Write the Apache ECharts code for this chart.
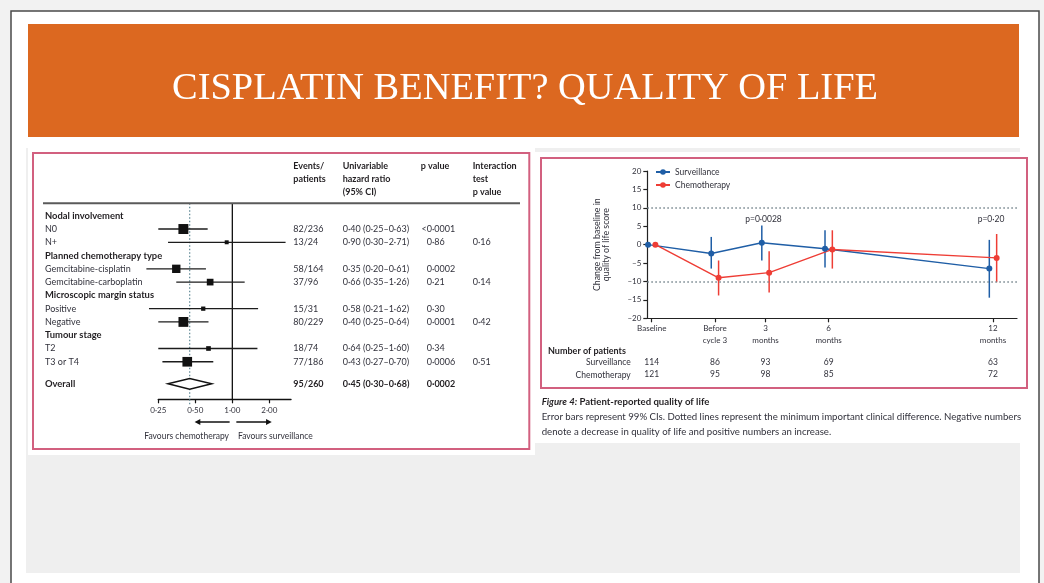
<!DOCTYPE html>
<html>
<head>
<meta charset="utf-8">
<title>Cisplatin benefit? Quality of life</title>
<script src="https://cdn.jsdelivr.net/npm/echarts@6/dist/echarts.min.js"></script>
<style>
  html, body { margin: 0; padding: 0; background: #f2f2f2; }
  #chart { width: 1044px; height: 583px; }
</style>
</head>
<body>
<div id="chart"></div>
<script>
// ---------- Forest plot: univariable hazard ratios by subgroup ----------
const groupTitles = ['Nodal involvement', 'Planned chemotherapy type', 'Microscopic margin status', 'Tumour stage'];
const subgroupLabels = ['N0', 'N+', 'Gemcitabine-cisplatin', 'Gemcitabine-carboplatin', 'Positive', 'Negative', 'T2', 'T3 or T4'];
const subgroupEvents = [82, 13, 58, 37, 15, 80, 18, 77];
const subgroupPatients = [236, 24, 164, 96, 31, 229, 74, 186];
const subgroupHr = [0.40, 0.90, 0.35, 0.66, 0.58, 0.40, 0.64, 0.43];
const subgroupLow = [0.25, 0.30, 0.20, 0.35, 0.21, 0.25, 0.25, 0.27];
const subgroupHigh = [0.63, 2.71, 0.61, 1.26, 1.62, 0.64, 1.60, 0.70];
const subgroupP = ['<0\u00b70001', '0\u00b786', '0\u00b70002', '0\u00b721', '0\u00b730', '0\u00b70001', '0\u00b734', '0\u00b70006'];
const interactionP = ['0\u00b716', '0\u00b714', '0\u00b742', '0\u00b751'];
const overallEvents = [95];
const overallPatients = [260];
const overallHr = [0.45];
const overallLow = [0.30];
const overallHigh = [0.68];
const overallP = ['0\u00b70002'];
const hrTicks = [0.25, 0.5, 1, 2];

// ---------- Patient-reported quality of life ----------
const visitLabels = ['Baseline', 'Before\ncycle 3', '3\nmonths', '6\nmonths', '12\nmonths'];
const visitSlot = [0, 5, 9, 14, 27];          // place of each visit along the time axis
const survMean = [0, -2.4, 0.5, -1.1, -6.5];
const survLow = [null, -6.5, -4.3, -6.2, -14.4];
const survHigh = [null, 2.1, 5.2, 3.9, 1.3];
const chemoMean = [0, -9.0, -7.6, -1.3, -3.6];
const chemoLow = [null, -13.8, -13.0, -6.5, -10.2];
const chemoHigh = [null, -4.3, -1.8, 3.9, 2.9];
const survPatients = [114, 86, 93, 69, 63];
const chemoPatients = [121, 95, 98, 85, 72];
const mcidLevels = [10, -10];
const pVisit = [2, 4];
const pText = ['p=0\u00b70028', 'p=0\u00b720'];

// ---------- styling ----------
const FONT = "Lato, 'Open Sans', sans-serif";
const SERIF = "'Liberation Serif', 'DejaVu Serif', serif";
const INK = '#32323c';
const INK_BOLD = '#221f22';
const BLUE = '#1f5ea6';
const RED = '#ee3d35';
const fmt2 = v => v.toFixed(2).replace('.', '\u00b7');
const DODGE = 0.29;
const P_LABEL_LEVEL = 7;

// table rows of the forest plot: a bold group title followed by its two subgroups
const forestRows = [];
groupTitles.forEach((title, g) => {
  forestRows.push({ label: title, group: g, sub: null });
  [0, 1].forEach(k => forestRows.push({ label: subgroupLabels[g * 2 + k], group: g, sub: g * 2 + k, last: k === 1 }));
});
const rowLabels = forestRows.map(r => r.label);
const hrText = (hr, lo, hi) => `${fmt2(hr)} (${fmt2(lo)}\u2013${fmt2(hi)})`;
const colEvents = forestRows.map(r => r.sub == null ? '' : subgroupEvents[r.sub] + '/' + subgroupPatients[r.sub]);
const colHr = forestRows.map(r => r.sub == null ? '' : hrText(subgroupHr[r.sub], subgroupLow[r.sub], subgroupHigh[r.sub]));
const colP = forestRows.map(r => r.sub == null ? '' : subgroupP[r.sub].replace('<', ''));
const colPSign = forestRows.map(r => r.sub != null && subgroupP[r.sub].startsWith('<') ? '<' : '');
const colInt = forestRows.map(r => r.last ? interactionP[r.group] : '');

const forestData = forestRows
  .map((r, i) => r.sub == null ? null : [subgroupHr[r.sub], i, subgroupLow[r.sub], subgroupHigh[r.sub], subgroupEvents[r.sub]])
  .filter(Boolean);

const FOREST_LEFT = 158.3, FOREST_W = 132.7, FOREST_RIGHT = FOREST_LEFT + FOREST_W;

function columnAxis(gridIndex, data, texts, x, bold, align) {
  return {
    gridIndex, type: 'category', data, inverse: true, position: 'right', offset: x - FOREST_RIGHT,
    axisLine: { show: false }, axisTick: { show: false }, splitLine: { show: false },
    axisLabel: {
      interval: 0, margin: 0, align: align || 'left', fontFamily: FONT, fontSize: 9,
      color: bold ? INK_BOLD : INK, fontWeight: bold ? 'bold' : 'normal',
      formatter: (v, i) => texts[i]
    }
  };
}

function renderForestRow(params, api) {
  const row = api.value(1);
  const pHr = api.coord([api.value(0), row]);
  const xLo = api.coord([api.value(2), row])[0];
  const xHi = api.coord([api.value(3), row])[0];
  const s = Math.sqrt(api.value(4)) * 1.1;
  return {
    type: 'group', children: [
      { type: 'line', shape: { x1: xLo, y1: pHr[1], x2: xHi, y2: pHr[1] }, style: { stroke: '#1c1c1c', lineWidth: 1.3 } },
      { type: 'rect', shape: { x: pHr[0] - s / 2, y: pHr[1] - s / 2, width: s, height: s }, style: { fill: '#111' } }
    ]
  };
}

function renderDiamond(params, api) {
  const c = api.coord([api.value(0), 0]);
  const lo = api.coord([api.value(1), 0])[0];
  const hi = api.coord([api.value(2), 0])[0];
  const h = 5.4;
  return {
    type: 'polygon',
    shape: { points: [[lo, c[1]], [c[0], c[1] - h], [hi, c[1]], [c[0], c[1] + h]] },
    style: { fill: '#fff', stroke: '#111', lineWidth: 1.5 }
  };
}

function renderErrorBar(color) {
  return function (params, api) {
    if (api.value(1) == null || isNaN(api.value(1))) return null;
    const a = api.coord([api.value(0), api.value(1)]);
    const b = api.coord([api.value(0), api.value(2)]);
    return { type: 'line', shape: { x1: a[0], y1: a[1], x2: b[0], y2: b[1] }, style: { stroke: color, lineWidth: 1.5 } };
  };
}

function renderPLabel(params, api) {
  const p = api.coord([api.value(0), P_LABEL_LEVEL]);
  return {
    type: 'text', x: p[0] - 2, y: p[1],
    style: { text: pText[params.dataIndex], fill: INK, fontFamily: FONT, fontSize: 8.5, textAlign: 'center', textVerticalAlign: 'middle' }
  };
}

const SLOT_MIN = -0.35, SLOT_MAX = 28.9;
const axisLabelBase = { fontFamily: FONT, color: INK };

const chart = echarts.init(document.getElementById('chart'), null, { renderer: 'canvas', width: 1044, height: 583 });

const option = {
  animation: false,
  textStyle: { fontFamily: FONT },
  grid: [
    { left: FOREST_LEFT, top: 209.1, width: FOREST_W, height: 159.3, outerBoundsMode: 'none' },
    { left: FOREST_LEFT, top: 368.4, width: FOREST_W, height: 30.9, outerBoundsMode: 'none' },
    { left: 647.3, top: 171, width: 369.7, height: 147.3, outerBoundsMode: 'none' }
  ],
  legend: {
    data: ['Surveillance', 'Chemotherapy'], orient: 'vertical', left: 650, top: 162.5, padding: 5,
    itemWidth: 14, itemHeight: 7, itemGap: 4, selectedMode: false,
    textStyle: { fontFamily: FONT, fontSize: 8.5, color: INK }
  },
  xAxis: [
    { gridIndex: 0, type: 'log', logBase: 2, min: 0.25, max: 3, show: false },
    {
      gridIndex: 1, type: 'log', logBase: 2, min: 0.25, max: 3, position: 'bottom',
      axisLine: { show: true, lineStyle: { color: '#111', width: 1.4 } },
      axisTick: { show: true, length: 4, customValues: hrTicks, lineStyle: { color: '#111', width: 1.2 } },
      axisLabel: Object.assign({ customValues: hrTicks, fontSize: 8, margin: 7, formatter: v => fmt2(v) }, axisLabelBase),
      splitLine: { show: false }, minorTick: { show: false }
    },
    {
      gridIndex: 2, type: 'value', min: SLOT_MIN, max: SLOT_MAX, position: 'bottom',
      axisLine: { show: true, onZero: false, lineStyle: { color: '#222', width: 1.2 } },
      axisTick: { show: true, length: 4, customValues: visitSlot, lineStyle: { color: '#222', width: 1.2 } },
      axisLabel: Object.assign({ customValues: visitSlot, fontSize: 8, lineHeight: 12.4, margin: 4,
        formatter: v => visitLabels[visitSlot.indexOf(v)] }, axisLabelBase),
      splitLine: { show: false }
    },
    {
      gridIndex: 2, type: 'value', min: SLOT_MIN, max: SLOT_MAX, position: 'bottom', offset: 38,
      axisLine: { show: false }, axisTick: { show: false }, splitLine: { show: false },
      axisLabel: Object.assign({ customValues: visitSlot, fontSize: 8.5, margin: 1,
        formatter: v => String(survPatients[visitSlot.indexOf(v)]) }, axisLabelBase)
    },
    {
      gridIndex: 2, type: 'value', min: SLOT_MIN, max: SLOT_MAX, position: 'bottom', offset: 50.5,
      axisLine: { show: false }, axisTick: { show: false }, splitLine: { show: false },
      axisLabel: Object.assign({ customValues: visitSlot, fontSize: 8.5, margin: 1,
        formatter: v => String(chemoPatients[visitSlot.indexOf(v)]) }, axisLabelBase)
    }
  ],
  yAxis: [
    {
      gridIndex: 0, type: 'category', data: rowLabels, inverse: true, position: 'left',
      axisLine: { show: false }, axisTick: { show: false }, splitLine: { show: false },
      axisLabel: {
        interval: 0, margin: FOREST_LEFT - 45, align: 'left', fontFamily: FONT, fontSize: 9, color: INK,
        formatter: v => groupTitles.includes(v) ? '{b|' + v + '}' : v,
        rich: { b: { fontFamily: FONT, fontSize: 9.4, fontWeight: 'bold', color: INK_BOLD } }
      }
    },
    columnAxis(0, rowLabels, colEvents, 293.3, false),
    columnAxis(0, rowLabels, colHr, 342.7, false),
    columnAxis(0, rowLabels, colP, 426.7, false),
    columnAxis(0, rowLabels, colInt, 472.7, false),
    columnAxis(0, rowLabels, colPSign, 426.7, false, 'right'),
    {
      gridIndex: 1, type: 'category', data: ['Overall'], inverse: true, position: 'left',
      axisLine: { show: false }, axisTick: { show: false }, splitLine: { show: false },
      axisLabel: { interval: 0, margin: FOREST_LEFT - 45, align: 'left', fontFamily: FONT, fontSize: 9.4, fontWeight: 'bold', color: INK_BOLD }
    },
    columnAxis(1, ['Overall'], [overallEvents[0] + '/' + overallPatients[0]], 293.3, true),
    columnAxis(1, ['Overall'], [hrText(overallHr[0], overallLow[0], overallHigh[0])], 342.7, true),
    columnAxis(1, ['Overall'], overallP, 426.7, true),
    {
      gridIndex: 2, type: 'value', min: -20, max: 20, interval: 5,
      axisLine: { show: true, onZero: false, lineStyle: { color: '#222', width: 1.2 } },
      axisTick: { show: true, length: 4, lineStyle: { color: '#222', width: 1.2 } },
      axisLabel: Object.assign({ fontSize: 8, margin: 6, formatter: v => v < 0 ? '\u2013' + (-v) : String(v) }, axisLabelBase),
      splitLine: { show: false },
      name: 'Change from baseline in\nquality of life score', nameLocation: 'middle', nameRotate: 90, nameGap: 37,
      nameTextStyle: { fontFamily: FONT, fontSize: 8.8, lineHeight: 9, color: INK }
    }
  ],
  series: [
    {
      type: 'custom', name: 'subgroups', xAxisIndex: 0, yAxisIndex: 0,
      data: forestData, encode: { x: [0, 2, 3], y: 1 }, renderItem: renderForestRow, clip: false, z: 5
    },
    {
      type: 'custom', name: 'overall', xAxisIndex: 1, yAxisIndex: 6,
      data: [[overallHr[0], overallLow[0], overallHigh[0]]], encode: { x: [0, 1, 2] },
      renderItem: renderDiamond, clip: false, z: 5
    },
    {
      type: 'custom', name: 'survBars', xAxisIndex: 2, yAxisIndex: 10,
      data: visitSlot.map((s, i) => [s - DODGE, survLow[i], survHigh[i]]), encode: { x: 0, y: [1, 2] },
      renderItem: renderErrorBar(BLUE), clip: false, z: 3
    },
    {
      type: 'custom', name: 'chemoBars', xAxisIndex: 2, yAxisIndex: 10,
      data: visitSlot.map((s, i) => [s + DODGE, chemoLow[i], chemoHigh[i]]), encode: { x: 0, y: [1, 2] },
      renderItem: renderErrorBar(RED), clip: false, z: 3
    },
    {
      type: 'line', name: 'Surveillance', xAxisIndex: 2, yAxisIndex: 10,
      data: visitSlot.map((s, i) => [s - DODGE, survMean[i]]),
      color: BLUE, symbol: 'circle', symbolSize: 6, lineStyle: { width: 1.4, color: BLUE }, itemStyle: { color: BLUE }, z: 4,
      markLine: {
        silent: true, symbol: 'none', label: { show: false },
        lineStyle: { type: [1.6, 2.4], color: '#7b8a92', width: 1.5 },
        data: mcidLevels.map(v => ({ yAxis: v }))
      }
    },
    {
      type: 'line', name: 'Chemotherapy', xAxisIndex: 2, yAxisIndex: 10,
      data: visitSlot.map((s, i) => [s + DODGE, chemoMean[i]]),
      color: RED, symbol: 'circle', symbolSize: 6, lineStyle: { width: 1.4, color: RED }, itemStyle: { color: RED }, z: 4
    },
    {
      type: 'custom', name: 'pValues', xAxisIndex: 2, yAxisIndex: 10,
      data: pVisit.map(i => [visitSlot[i]]), encode: { x: 0 }, renderItem: renderPLabel, clip: false, z: 6
    }
  ]
};

chart.setOption(option);

// reference lines and direction arrows placed on the hazard-ratio scale
const hrPx = v => chart.convertToPixel({ xAxisIndex: 1 }, v);
const xOne = hrPx(1), xOverall = hrPx(overallHr[0]), xHalf = hrPx(0.5), xTwo = hrPx(2);
const ARROW_Y = 422;

const txt = (x, y, text, extra) => ({
  type: 'text', x, y, z: 20,
  style: Object.assign({ text, fill: INK, fontFamily: FONT, fontSize: 9, textAlign: 'left', textVerticalAlign: 'middle' }, extra || {})
});

const elements = [
  // slide
  { type: 'rect', z: -30, shape: { x: 11, y: 11, width: 1028, height: 620 }, style: { fill: '#fff', stroke: '#4a4a4a', lineWidth: 1.5 } },
  { type: 'rect', z: -29, shape: { x: 28, y: 24, width: 991, height: 113 }, style: { fill: '#dc6820' } },
  { type: 'text', z: -28, x: 525, y: 89, style: { text: 'CISPLATIN BENEFIT? QUALITY OF LIFE', fill: '#fff', fontFamily: SERIF, fontSize: 38.4, textAlign: 'center', textVerticalAlign: 'middle' } },
  { type: 'rect', z: -27, shape: { x: 26, y: 148, width: 994, height: 425 }, style: { fill: '#efefef' } },
  // left panel
  { type: 'rect', z: -26, shape: { x: 28, y: 146, width: 507, height: 309 }, style: { fill: '#fff' } },
  { type: 'rect', z: -25, shape: { x: 33, y: 153, width: 496.3, height: 296 }, style: { fill: 'none', stroke: '#d2607f', lineWidth: 2 } },
  // right panel
  { type: 'rect', z: -26, shape: { x: 535, y: 152, width: 496, height: 291 }, style: { fill: '#fff' } },
  { type: 'rect', z: -25, shape: { x: 541, y: 158, width: 486, height: 230 }, style: { fill: 'none', stroke: '#d2607f', lineWidth: 2 } },

  // forest table header
  txt(293.3, 159.5, 'Events/\npatients', { fontWeight: 'bold', fill: INK_BOLD, lineHeight: 13, textVerticalAlign: 'top' }),
  txt(342.7, 159.5, 'Univariable\nhazard ratio\n(95% CI)', { fontWeight: 'bold', fill: INK_BOLD, lineHeight: 13, textVerticalAlign: 'top' }),
  txt(420.7, 159.5, 'p value', { fontWeight: 'bold', fill: INK_BOLD, lineHeight: 13, textVerticalAlign: 'top' }),
  txt(472.7, 159.5, 'Interaction\ntest\np value', { fontWeight: 'bold', fill: INK_BOLD, lineHeight: 13, textVerticalAlign: 'top' }),
  { type: 'line', z: 20, shape: { x1: 43, y1: 203.3, x2: 520, y2: 203.3 }, style: { stroke: '#5a5a5a', lineWidth: 2 } },

  // no-effect line and overall estimate line
  { type: 'line', z: 4, shape: { x1: xOne, y1: 203.3, x2: xOne, y2: 399.3 }, style: { stroke: '#111', lineWidth: 1.3 } },
  { type: 'line', z: 3, shape: { x1: xOverall, y1: 203.3, x2: xOverall, y2: 406 }, style: { stroke: '#5d8794', lineWidth: 1.2, lineDash: [1.5, 2] } },

  // direction arrows
  { type: 'line', z: 20, shape: { x1: xOne - 2.7, y1: ARROW_Y, x2: xHalf + 3, y2: ARROW_Y }, style: { stroke: '#111', lineWidth: 1.5 } },
  { type: 'polygon', z: 20, shape: { points: [[xHalf - 0.7, ARROW_Y], [xHalf + 5, ARROW_Y - 3], [xHalf + 5, ARROW_Y + 3]] }, style: { fill: '#111' } },
  { type: 'line', z: 20, shape: { x1: xOne + 4, y1: ARROW_Y, x2: xTwo - 2, y2: ARROW_Y }, style: { stroke: '#111', lineWidth: 1.5 } },
  { type: 'polygon', z: 20, shape: { points: [[xTwo + 2.4, ARROW_Y], [xTwo - 3.3, ARROW_Y - 3], [xTwo - 3.3, ARROW_Y + 3]] }, style: { fill: '#111' } },
  txt(xOne - 3.4, 436, 'Favours chemotherapy', { textAlign: 'right', fontSize: 8.5 }),
  txt(xOne + 5.6, 436, 'Favours surveillance', { fontSize: 8.5 }),

  // number-at-risk table titles
  txt(548, 351, 'Number of patients', { fontWeight: 'bold', fill: INK_BOLD }),
  txt(630.7, 362.7, 'Surveillance', { textAlign: 'right', fontSize: 8.5 }),
  txt(630.7, 375, 'Chemotherapy', { textAlign: 'right', fontSize: 8.5 }),

  // figure caption
  txt(541.7, 402.3, '{fi|Figure 4:} {b|Patient-reported quality of life}', {
    rich: {
      fi: { fontFamily: FONT, fontSize: 9.6, fontWeight: 'bold', fontStyle: 'italic', fill: INK_BOLD },
      b: { fontFamily: FONT, fontSize: 9.6, fontWeight: 'bold', fill: INK_BOLD }
    }
  }),
  txt(541.7, 416.7, 'Error bars represent 99% CIs. Dotted lines represent the minimum important clinical difference. Negative numbers', { fontSize: 9.65 }),
  txt(541.7, 431.7, 'denote a decrease in quality of life and positive numbers an increase.', { fontSize: 9.65 })
];

chart.setOption({ graphic: { elements } });
</script>
</body>
</html>
